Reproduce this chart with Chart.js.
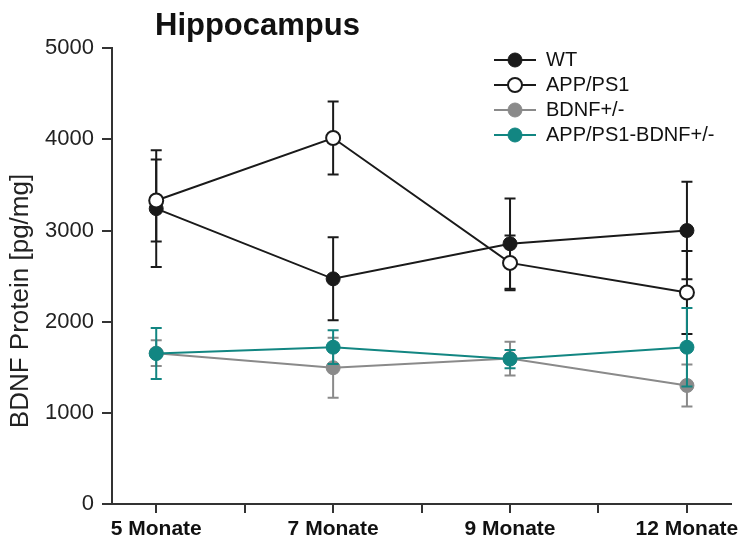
<!DOCTYPE html>
<html>
<head>
<meta charset="utf-8">
<title>Hippocampus</title>
<script src="https://cdn.jsdelivr.net/npm/chart.js@4.4.1/dist/chart.umd.min.js"></script>
<style>
    body { margin: 0; background: #fff; }
    #wrap { width: 743px; height: 540px; }
</style>
</head>
<body>
<div id="wrap"><canvas id="bdnfChart" width="743" height="540"></canvas></div>
<script>
// Data
const categories = ["5 Monate", "7 Monate", "9 Monate", "12 Monate"];
const seriesNames = ["WT", "APP/PS1", "BDNF+/-", "APP/PS1-BDNF+/-"];
const wt = [3240, 2470, 2855, 3000];
const wtErr = [640, 455, 495, 535];
const appPs1 = [3330, 4015, 2645, 2320];
const appPs1Err = [450, 400, 300, 455];
const bdnf = [1655, 1495, 1595, 1300];
const bdnfErr = [140, 330, 185, 230];
const appBdnf = [1650, 1720, 1590, 1720];
const appBdnfErr = [280, 185, 100, 430];
const yTicks = [0, 1000, 2000, 3000, 4000, 5000];
const yTitleText = "BDNF Protein [pg/mg]";

const FONT = "'Liberation Sans', Arial, Helvetica, sans-serif";
Chart.defaults.font.family = FONT;

const BLACK = "#1a1a1a";
const GREY = "#8a8a8a";
const TEAL = "#128682";

// x ticks: one per category plus a minor one half-way between
const xTicks = [];
categories.forEach((c, i) => {
    xTicks.push(i);
    if (i < categories.length - 1) xTicks.push(i + 0.5);
});

function toPoints(values) {
    return values.map((v, i) => ({ x: i, y: v }));
}

// small line + circle icon for the legend
function legendIcon(stroke, fill) {
    const c = document.createElement("canvas");
    c.width = 42;
    c.height = 18;
    const g = c.getContext("2d");
    g.strokeStyle = stroke;
    g.lineWidth = 2;
    g.beginPath();
    g.moveTo(0, 9);
    g.lineTo(42, 9);
    g.stroke();
    g.beginPath();
    g.arc(21, 9, 7, 0, Math.PI * 2);
    g.fillStyle = fill;
    g.fill();
    g.lineWidth = stroke === fill ? 1 : 2;
    g.stroke();
    return c;
}

function makeSet(label, values, errors, color, fill) {
    return {
        label: label,
        data: toPoints(values),
        errors: errors,
        borderColor: color,
        backgroundColor: fill,
        borderWidth: 2,
        pointRadius: 7,
        pointHoverRadius: 7,
        pointBorderWidth: color === fill ? 1 : 2,
        pointBackgroundColor: fill,
        pointBorderColor: color,
        tension: 0,
        icon: legendIcon(color, fill),
    };
}

// listed bottom-up so WT/APP and teal end up on top, legend is reversed
const datasets = [
    makeSet(seriesNames[3], appBdnf, appBdnfErr, TEAL, TEAL),
    makeSet(seriesNames[2], bdnf, bdnfErr, GREY, GREY),
    makeSet(seriesNames[1], appPs1, appPs1Err, BLACK, "#ffffff"),
    makeSet(seriesNames[0], wt, wtErr, BLACK, BLACK),
];

// error bars, drawn just before each dataset's own line and markers
const errorBars = {
    id: "errorBars",
    beforeDatasetDraw(chart, args) {
        const ds = chart.data.datasets[args.index];
        const yScale = chart.scales.y;
        const ctx = chart.ctx;
        ctx.save();
        ctx.strokeStyle = ds.borderColor;
        ctx.lineWidth = 2;
        args.meta.data.forEach((pt, i) => {
            const v = ds.data[i].y;
            const e = ds.errors[i];
            const top = yScale.getPixelForValue(v + e);
            const bot = yScale.getPixelForValue(v - e);
            ctx.beginPath();
            ctx.moveTo(pt.x, top);
            ctx.lineTo(pt.x, bot);
            ctx.moveTo(pt.x - 5.5, top);
            ctx.lineTo(pt.x + 5.5, top);
            ctx.moveTo(pt.x - 5.5, bot);
            ctx.lineTo(pt.x + 5.5, bot);
            ctx.stroke();
        });
        ctx.restore();
    },
};

// move title and legend to where the figure has them
const placeBoxes = {
    id: "placeBoxes",
    afterLayout(chart) {
        chart.titleBlock.left = chart.chartArea.left + 43;
        const lg = chart.legend;
        const w = lg.width;
        lg.left = 489;
        lg.right = lg.left + w;
        lg.top = 45;
        lg.bottom = 540;
    },
};

// rotated y-axis title
const yTitle = {
    id: "yTitle",
    afterDraw(chart) {
        const ctx = chart.ctx;
        ctx.save();
        ctx.translate(28, 301);
        ctx.rotate(-Math.PI / 2);
        ctx.font = "26px " + FONT;
        ctx.fillStyle = "#222";
        ctx.textAlign = "center";
        ctx.textBaseline = "alphabetic";
        ctx.fillText(yTitleText, 0, 0);
        ctx.restore();
    },
};

const ctx = document.getElementById("bdnfChart").getContext("2d");
const bdnfChart = new Chart(ctx, {
    type: "line",
    data: { datasets: datasets },
    options: {
        responsive: false,
        animation: false,
        layout: { padding: { left: 0, right: 10, top: 0, bottom: 0 } },
        plugins: {
            title: {
                display: true,
                text: "Hippocampus",
                align: "start",
                color: "#111",
                font: { size: 31, weight: "bold" },
                padding: { top: 8, bottom: 3 },
            },
            legend: {
                position: "chartArea",
                align: "start",
                reverse: true,
                labels: {
                    usePointStyle: true,
                    pointStyleWidth: 42,
                    padding: 5,
                    color: "#111",
                    font: { size: 20 },
                    generateLabels(chart) {
                        const items = Chart.defaults.plugins.legend.labels.generateLabels(chart);
                        items.forEach((it) => {
                            it.pointStyle = chart.data.datasets[it.datasetIndex].icon;
                        });
                        return items;
                    },
                },
            },
            tooltip: { enabled: false },
        },
        scales: {
            x: {
                type: "linear",
                min: -0.25,
                max: 3.25,
                afterFit(scale) { scale.height = 36; },
                afterBuildTicks(scale) { scale.ticks = xTicks.map((v) => ({ value: v })); },
                border: { display: true, color: "#333", width: 2 },
                grid: { drawOnChartArea: false, drawTicks: true, tickLength: 9, lineWidth: 2, color: "#333" },
                ticks: {
                    autoSkip: false,
                    maxRotation: 0,
                    padding: 4,
                    color: "#111",
                    font: { size: 21, weight: "bold" },
                    callback: (v) => (Number.isInteger(v) ? categories[v] : ""),
                },
            },
            y: {
                min: yTicks[0],
                max: yTicks[yTicks.length - 1],
                afterFit(scale) { scale.width = 112; },
                afterBuildTicks(scale) { scale.ticks = yTicks.map((v) => ({ value: v })); },
                border: { display: true, color: "#333", width: 2 },
                grid: { drawOnChartArea: false, drawTicks: true, tickLength: 10, lineWidth: 2, color: "#333" },
                ticks: {
                    padding: 8,
                    color: "#222",
                    font: { size: 22 },
                    callback: (v) => String(v),
                },
            },
        },
    },
    plugins: [errorBars, placeBoxes, yTitle],
});
</script>
</body>
</html>
